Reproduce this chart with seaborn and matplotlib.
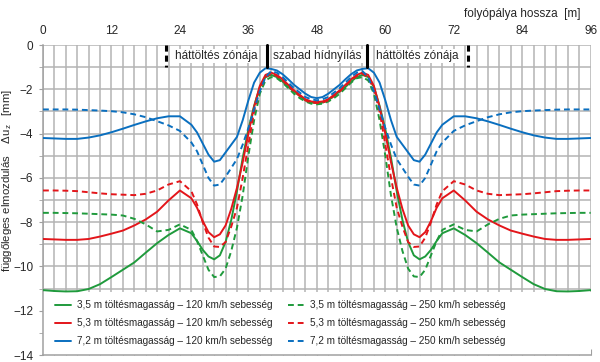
import numpy as np
import pandas as pd
import matplotlib
matplotlib.use("Agg")
import matplotlib.pyplot as plt
from matplotlib.ticker import MultipleLocator
import seaborn as sns

sns.set_style("white")
plt.rcParams['font.family'] = ['Liberation Sans', 'DejaVu Sans']
plt.rcParams['mathtext.fontset'] = 'custom'
plt.rcParams['mathtext.rm'] = 'Liberation Sans'
plt.rcParams['mathtext.it'] = 'Liberation Sans:italic'

# left half of the track (the section is symmetric about x = 48 m)
x_half = [0, 2, 4, 6, 8, 10, 12, 14, 16, 18, 20, 22, 24, 26, 27, 28, 29, 30,
          31, 32, 33, 34, 35, 36, 37, 38, 39, 40, 41, 42, 43, 44, 45, 46, 47, 48]

g120 = [-11.07, -11.11, -11.13, -11.12, -11.02, -10.80, -10.48, -10.15, -9.82, -9.38,
        -8.95, -8.58, -8.28, -8.50, -8.85, -9.25, -9.55, -9.68, -9.50, -8.90,
        -7.90, -6.60, -5.10, -3.80, -2.75, -1.90, -1.45, -1.35, -1.45, -1.65,
        -1.90, -2.10, -2.30, -2.50, -2.60, -2.62]
r120 = [-8.76, -8.78, -8.80, -8.80, -8.76, -8.65, -8.52, -8.38, -8.15, -7.88,
        -7.53, -7.02, -6.57, -6.92, -7.35, -7.95, -8.45, -8.68, -8.55, -8.15,
        -7.40, -6.45, -5.30, -4.00, -2.80, -1.85, -1.35, -1.25, -1.35, -1.55,
        -1.80, -2.05, -2.25, -2.45, -2.55, -2.58]
b120 = [-4.20, -4.22, -4.24, -4.24, -4.18, -4.08, -3.94, -3.78, -3.61, -3.45,
        -3.31, -3.22, -3.22, -3.60, -3.95, -4.45, -4.95, -5.27, -5.20, -4.85,
        -4.50, -4.15, -3.40, -2.50, -1.70, -1.25, -1.05, -1.08, -1.15, -1.32,
        -1.55, -1.80, -2.00, -2.20, -2.35, -2.40]
g250 = [-7.58, -7.58, -7.59, -7.60, -7.62, -7.64, -7.66, -7.70, -7.85, -8.10,
        -8.42, -8.35, -8.10, -8.35, -8.85, -9.50, -10.15, -10.48, -10.45, -10.10,
        -9.30, -8.25, -6.80, -5.00, -3.40, -2.20, -1.60, -1.45, -1.50, -1.70,
        -1.95, -2.20, -2.40, -2.55, -2.65, -2.68]
r250 = [-6.57, -6.57, -6.58, -6.60, -6.65, -6.70, -6.74, -6.76, -6.78, -6.72,
        -6.57, -6.30, -6.15, -6.60, -7.20, -8.00, -8.70, -9.10, -9.12, -8.90,
        -8.20, -7.35, -6.00, -4.50, -3.00, -2.00, -1.45, -1.30, -1.40, -1.60,
        -1.85, -2.10, -2.30, -2.50, -2.60, -2.62]
b250 = [-2.91, -2.91, -2.91, -2.92, -2.94, -2.96, -2.99, -3.04, -3.13, -3.26,
        -3.44, -3.63, -3.88, -4.40, -4.80, -5.40, -6.00, -6.35, -6.30, -5.95,
        -5.55, -5.15, -4.50, -3.75, -2.90, -2.10, -1.45, -1.18, -1.25, -1.45,
        -1.70, -1.95, -2.15, -2.35, -2.45, -2.50]

labels = ['3,5 m töltésmagasság – 120 km/h sebesség',
          '5,3 m töltésmagasság – 120 km/h sebesség',
          '7,2 m töltésmagasság – 120 km/h sebesség',
          '3,5 m töltésmagasság – 250 km/h sebesség',
          '5,3 m töltésmagasság – 250 km/h sebesség',
          '7,2 m töltésmagasság – 250 km/h sebesség']
colors = ['#1f9a3c', '#e3151a', '#0a6fbf'] * 2
series = [g120, r120, b120, g250, r250, b250]

zone_bounds = [21.5, 39.3, 56.8, 74.5]
zone_texts = ['háttöltés zónája', 'szabad hídnyílás', 'háttöltés zónája']


def mirror(vals):
    v = np.array(vals, dtype=float)
    return np.concatenate([v, v[-2::-1]])


x_full = np.concatenate([np.array(x_half, float), 96 - np.array(x_half[-2::-1], float)])

fig = plt.figure(figsize=(6, 3.62), dpi=100)
ax = fig.add_axes([43 / 600, 1 - 355 / 362, (590.7 - 43) / 600, (355 - 45) / 362])

for i, (ys, lab) in enumerate(zip(series, labels)):
    ls = '-' if i < 3 else (0, (3, 2))
    sns.lineplot(x=x_full, y=mirror(ys), color=colors[i], linestyle=ls,
                 linewidth=1.4, ax=ax, label=lab, zorder=3)
handles, labs = ax.get_legend_handles_labels()

ax.set_xlim(0, 96)
ax.set_ylim(-14, 0)
ax.xaxis.set_major_locator(MultipleLocator(12))
ax.xaxis.set_minor_locator(MultipleLocator(2))
ax.yaxis.set_major_locator(MultipleLocator(2))
ax.yaxis.set_minor_locator(MultipleLocator(1))
ax.grid(which='both', color='#b4b4b4', linewidth=1.1)
ax.set_axisbelow(True)

# white legend area hides the grid at the bottom
ax.axhspan(-14, -11.15, color='white', zorder=1.5, linewidth=0)

ax.tick_params(axis='x', which='both', top=False, bottom=True, labeltop=True,
               labelbottom=False, direction='in', length=4, color='#a0a0a0',
               labelsize=8.5, pad=6)
ax.tick_params(axis='y', which='both', left=True, direction='out', length=3,
               color='#a0a0a0', labelsize=8.5, pad=4)
for s in ['top', 'right']:
    ax.spines[s].set_visible(False)
for s in ['left', 'bottom']:
    ax.spines[s].set_color('#a0a0a0')
    ax.spines[s].set_linewidth(1.1)
ax.set_xlabel('')
ax.set_ylabel('')

# zone borders and names
for k, xb in enumerate(zone_bounds):
    ls = '-' if k in (1, 2) else (0, (2.0, 1.3))
    ax.plot([xb, xb], [0, -1], color='black', linewidth=2.2, linestyle=ls,
            zorder=4, clip_on=False)
for k, t in enumerate(zone_texts):
    xc = (zone_bounds[k] + zone_bounds[k + 1]) / 2
    ax.text(xc, -0.5, t, ha='center', va='center', fontsize=8.5,
            bbox=dict(facecolor='white', edgecolor='none', pad=1), zorder=5)

fig.text(580 / 600, 1 - 14 / 362, 'folyópálya hossza  [m]', ha='right',
         va='center', fontsize=8.5)
fig.text(7.5 / 600, 1 - 180 / 362,
         'függőleges elmozdulás    Δu$_\\mathrm{z}$   [mm]', rotation=90,
         ha='center', va='center', fontsize=8.2)

ax.legend(handles, labs, ncol=2, loc='upper left', bbox_to_anchor=(0.015, 0.19),
          frameon=False, fontsize=7.2, handlelength=1.6, handletextpad=0.6,
          columnspacing=1.5, labelspacing=0.82, borderaxespad=0)

fig.savefig('out.png', dpi=100)
